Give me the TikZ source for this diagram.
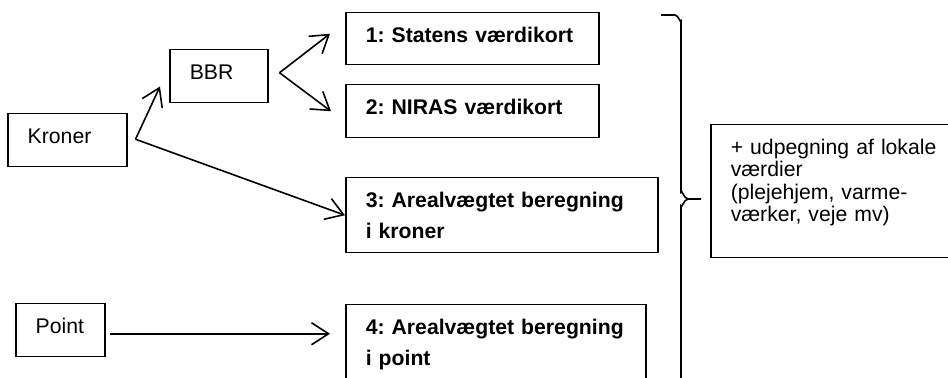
\documentclass[tikz,border=0pt]{standalone}
\usepackage{fontspec}
\setmainfont{Liberation Sans}
\usepackage{tikz}
\usetikzlibrary{arrows.meta, positioning, calc}
\frenchspacing
\hyphenpenalty=10000
\exhyphenpenalty=10000

\begin{document}
\begin{tikzpicture}[
    x=0.5pt, y=-0.5pt,
    box/.style={rectangle, draw, line width=0.75pt, anchor=north west, inner xsep=10pt, inner ysep=0pt, text height=15pt, align=left},
    plain/.style={box, font=\fontsize{10.6pt}{11.1pt}\selectfont},
    result/.style={box, font=\fontsize{10.6pt}{15.5pt}\selectfont\bfseries},
    arrow/.style={-{Straight Barb[length=8.5pt, width=11pt]}, line width=0.8pt},
    brace/.style={line width=0.8pt}
]
    \useasboundingbox (0,0) rectangle (948,378);
    \clip (0,0) rectangle (948,378);

    \node[plain, text width=39.5pt, text depth=11.5pt] (kroner) at (7,113) {Kroner};
    \node[plain, text width=29pt, text depth=11.5pt] (bbr) at (169,49) {BBR};
    \node[plain, text width=24.5pt, text depth=11.5pt] (point) at (15,303) {Point};
    \node[result, text width=106.5pt, text depth=11pt] (statens) at (345,12) {1: Statens værdikort};
    \node[result, text width=106.5pt, text depth=11.5pt] (niras) at (345,84) {2: NIRAS værdikort};
    \node[result, text width=136pt, text depth=22.5pt] (kronerberegning) at (345,177) {3: Arealvægtet beregning\\i kroner};
    \node[result, text width=130pt, text depth=23pt] (pointberegning) at (345,304) {4: Arealvægtet beregning\\i point};
    \node[plain, text width=110pt, text depth=51.5pt] (lokale) at (710,124) {+ udpegning af lokale\\værdier\\(plejehjem, varme-\\værker, veje mv)};

    \coordinate (kroner out) at ([shift={(8,-1)}]kroner.east);
    \coordinate (bbr out) at ([shift={(11,-3.5)}]bbr.east);

    \draw[arrow] (kroner out) -- ([shift={(-9,-17)}]bbr.south west);
    \draw[arrow] (bbr out) -- ([shift={(-15,-5)}]statens.west);
    \draw[arrow] (bbr out) -- ([shift={(-14,0)}]niras.west);
    \draw[arrow] (kroner out) -- (kronerberegning.west);
    \draw[arrow] ([shift={(4,3.5)}]point.east) -- ([shift={(-15,-9)}]pointberegning.west);

    \draw[brace] (661,15) -- (675,15) to[out=0, in=-90] (681,21) -- (681,192) to[out=90, in=180] (688,199) -- (701,199);
    \draw[brace] (688,199) to[out=180, in=-90] (681,206) -- (681,390);
\end{tikzpicture}
\end{document}
